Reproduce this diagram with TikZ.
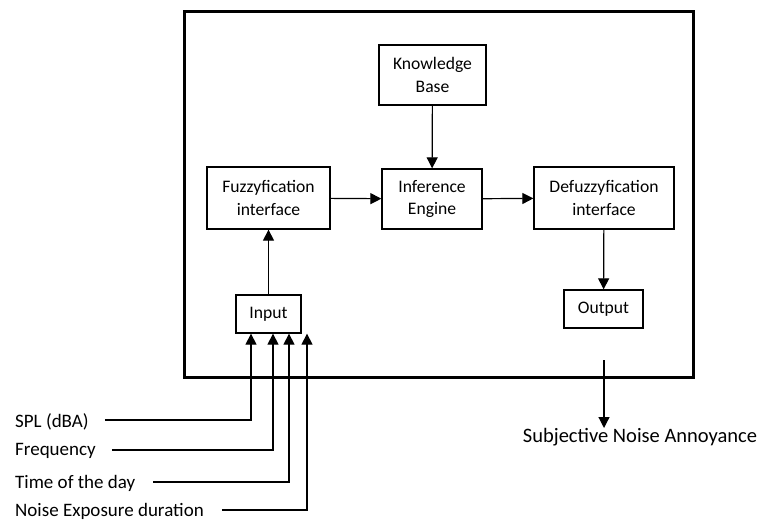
\documentclass[tikz,border=0pt]{standalone}
\usepackage{fontspec}
\setmainfont{Carlito}
\usetikzlibrary{arrows.meta}

\tikzset{
  blk/.style={draw, line width=1.3pt, align=center, inner sep=0pt},
  lbl/.style={inner sep=0pt, anchor=west, font=\fontsize{19}{22}\selectfont},
  arr/.style={line width=1.2pt, -{Triangle[length=11pt,width=11pt]}},
}

\begin{document}
\begin{tikzpicture}[x=1pt,y=-1pt,font=\fontsize{17.6}{22.5}\selectfont]
  \useasboundingbox (0,0) rectangle (757,521);

  %system frame
  \draw[line width=3pt] (184,12) rectangle (693,377);

  %blocks
  \node[blk, minimum width=107pt, minimum height=60pt] (kb) at (432.5,75) {Knowledge\\Base};
  \node[blk, minimum width=100pt, minimum height=60pt] (ie) at (432,199) {Inference\\Engine};
  \node[blk, minimum width=123pt, minimum height=62pt] (fi) at (268.5,198) {Fuzzyfication\\interface};
  \node[blk, minimum width=140pt, minimum height=62pt] (di) at (604,198) {Defuzzyfication\\interface};
  \node[blk, minimum width=65pt, minimum height=38pt] (in) at (268.5,314) {Input};
  \node[blk, minimum width=79pt, minimum height=38pt] (out) at (603.5,309) {Output};

  \draw[arr] (kb) -- (ie);
  \draw[arr] (fi) -- (ie);
  \draw[arr] (ie) -- (di);
  \draw[arr] (in) -- (fi);
  \draw[arr] (di) -- (out);

  %inputs
  \node[lbl] (spl) at (15,422) {SPL (dBA)};
  \node[lbl] (frq) at (15,451) {Frequency};
  \node[lbl] (tod) at (15,483) {Time of the day};
  \node[lbl] (ned) at (15,511) {Noise Exposure duration};

  \draw[arr] ([xshift=16pt]spl.east |- 0,420) -| ([xshift=-17.5pt]in.south);
  \draw[arr] ([xshift=16pt]frq.east |- 0,450) -| ([xshift=4.5pt]in.south);
  \draw[arr] ([xshift=18pt]tod.east |- 0,482) -| ([xshift=20.5pt]in.south);
  \draw[arr] ([xshift=18pt]ned.east |- 0,510) -| ([xshift=38.5pt]in.south);

  %output
  \coordinate [] (exit) at (604,360);
  \node[lbl, anchor=north, font=\fontsize{20.5}{24}\selectfont] (sna) at (640,428) {Subjective Noise Annoyance};
  \draw[arr] (exit) -- (exit |- sna.north);

\end{tikzpicture}
\end{document}
